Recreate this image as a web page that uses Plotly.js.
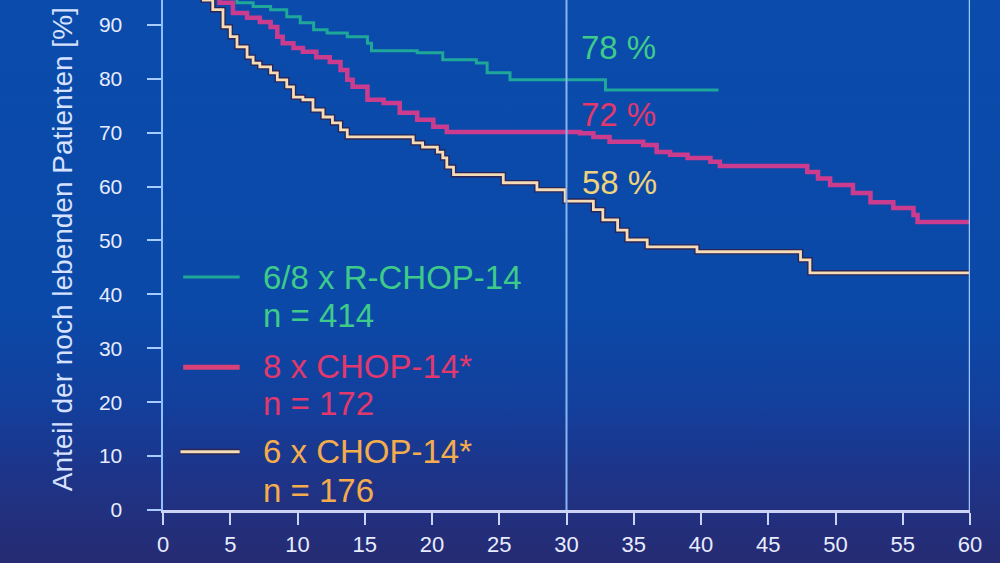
<!DOCTYPE html>
<html>
<head>
<meta charset="utf-8">
<script src="https://cdn.plot.ly/plotly-3.0.1.min.js"></script>
<style>
  html, body { margin: 0; padding: 0; }
  #chart {
    width: 1000px; height: 563px;
    background: linear-gradient(to bottom, #0a4bab 0%, #0b49a8 55%, #133f9c 72%, #1f3386 86%, #262b72 100%);
  }
</style>
</head>
<body>
<div id="chart"></div>
<script>
// ---- data (months, % alive) ----
const greenT = [0, 1.5, 3, 4.5, 5.5, 6.7, 8, 9.2, 10.2, 11.2, 12.2, 13.7, 15.2, 15.5, 18.9, 20.8, 23.3, 24.1, 25.8, 32.9, 41.3];
const greenV = [100, 98, 96, 95, 94.1, 93.4, 92.8, 91.5, 90.4, 89.1, 88.5, 87.8, 86.6, 85.2, 84.8, 83.5, 82.9, 81.1, 79.8, 77.9, 77.9];

const pinkT = [0, 2, 3.5, 4.2, 5.2, 6.25, 7.2, 8, 8.5, 8.9, 9.7, 10.4, 11.4, 12.4, 13.2, 13.7, 14.1, 15.2, 16.4, 17.6, 18.9, 20.1, 21.1, 31, 32, 33.2, 35.7, 36.7, 37.7, 39, 40.7, 41.4, 47.9, 48.7, 49.6, 51.3, 52.6, 54.3, 55.8, 56.1, 60];
const pinkV = [100, 98, 96, 94.1, 92.2, 91.3, 90.5, 89.6, 87.8, 86.6, 85.7, 85, 84, 83.1, 81.6, 79.8, 78.5, 76.1, 75.5, 73.7, 72.4, 71.1, 70.1, 69.9, 69.2, 68.3, 67.7, 66.4, 65.9, 65.3, 64.6, 63.8, 62.7, 61.5, 60.3, 58.8, 57.1, 56, 54.7, 53.4, 53.4];

const orangeT = [0, 1.5, 2.5, 3, 3.7, 4.46, 5, 5.5, 6.25, 6.7, 7.2, 8, 8.5, 9.2, 9.7, 10.4, 11.15, 11.9, 12.6, 13.2, 13.7, 18.6, 19.3, 20.4, 20.8, 21.1, 21.6, 25.3, 27.8, 29.9, 32, 32.7, 33.8, 34.5, 36, 39.7, 47.4, 48.1, 60];
const orangeV = [100, 98, 96, 94.6, 92.8, 89.6, 87.8, 85.9, 84, 82.9, 82.2, 81.1, 79.8, 78.5, 76.6, 76.1, 74.2, 72.9, 71.8, 70.5, 69.2, 68.1, 67.3, 66.4, 65.3, 63.6, 62.2, 60.7, 59.4, 57.3, 55.7, 53.8, 51.9, 50.1, 48.8, 47.9, 46.4, 44, 44];

const seriesNames = ['6/8 x R-CHOP-14', '8 x CHOP-14*', '6 x CHOP-14*'];
const seriesN = ['n = 414', 'n = 172', 'n = 176'];
const endLabels = ['78 %', '72 %', '58 %'];
const xTicks = [0, 5, 10, 15, 20, 25, 30, 35, 40, 45, 50, 55, 60];
const yTicks = [0, 10, 20, 30, 40, 50, 60, 70, 80, 90];
const yTitle = 'Anteil der noch lebenden Patienten [%]';

// ---- styles ----
const GREEN_LINE = '#1fa89a', GREEN_TXT = '#3ecb8a';
const PINK_LINE = '#cc3c8e', PINK_TXT = '#e2386c';
const OR_LINE = '#f4dcb6', OR_SHADOW = '#2b2456', OR_TXT = '#f4ac4c', OR_PCT = '#efd27a';
const FONT = 'Liberation Sans, Arial, sans-serif';

const traces = [
  {x: greenT, y: greenV, mode: 'lines', line: {shape: 'hv', color: GREEN_LINE, width: 3}},
  {x: pinkT, y: pinkV, mode: 'lines', line: {shape: 'hv', color: PINK_LINE, width: 4.5}},
  {x: orangeT, y: orangeV, mode: 'lines', line: {shape: 'hv', color: OR_SHADOW, width: 5.5}},
  {x: orangeT, y: orangeV, mode: 'lines', line: {shape: 'hv', color: OR_LINE, width: 2.8}}
];

const ann = [];
function txt(x, y, text, color, size) {
  ann.push({x: x, y: y, xref: 'x', yref: 'y', text: text, showarrow: false,
    xanchor: 'left', yanchor: 'middle', font: {family: FONT, size: size, color: color}});
}
txt(30.9, 85.7, endLabels[0], GREEN_TXT, 33);
txt(30.9, 73.3, endLabels[1], PINK_TXT, 33);
txt(31.0, 60.7, endLabels[2], OR_PCT, 33);

txt(7.3, 43.2, seriesNames[0], GREEN_TXT, 33);
txt(7.3, 36.0, seriesN[0], GREEN_TXT, 33);
txt(7.3, 26.7, seriesNames[1], PINK_TXT, 33);
txt(7.3, 19.7, seriesN[1], PINK_TXT, 33);
txt(7.3, 10.8, seriesNames[2], OR_TXT, 33);
txt(7.3, 3.7, seriesN[2], OR_TXT, 33);

ann.push({xref: 'paper', yref: 'paper', x: -0.125, y: 0.033, xanchor: 'center', yanchor: 'bottom',
  textangle: -90, showarrow: false, text: yTitle,
  font: {family: FONT, size: 28, color: '#d6e2ff'}});

const shapes = [
  {type: 'line', xref: 'x', yref: 'paper', x0: 30, x1: 30, y0: 0, y1: 1, line: {color: '#86b6f2', width: 2}},
  {type: 'line', xref: 'x', yref: 'paper', x0: 60, x1: 60, y0: 0, y1: 1, line: {color: '#9cc6ff', width: 2.5}},
  // legend swatches
  {type: 'line', xref: 'x', yref: 'y', x0: 1.5, x1: 5.7, y0: 43.2, y1: 43.2, line: {color: GREEN_LINE, width: 3}},
  {type: 'line', xref: 'x', yref: 'y', x0: 1.5, x1: 5.7, y0: 26.5, y1: 26.5, line: {color: '#d84078', width: 5}},
  {type: 'line', xref: 'x', yref: 'y', x0: 1.3, x1: 5.7, y0: 10.8, y1: 10.8, line: {color: OR_SHADOW, width: 6}},
  {type: 'line', xref: 'x', yref: 'y', x0: 1.3, x1: 5.7, y0: 10.8, y1: 10.8, line: {color: OR_LINE, width: 3}}
];

const layout = {
  width: 1000, height: 563,
  margin: {l: 163, r: 30, t: 0, b: 53},
  paper_bgcolor: 'rgba(0,0,0,0)',
  plot_bgcolor: 'rgba(0,0,0,0)',
  showlegend: false,
  xaxis: {
    range: [0, 60], tickvals: xTicks, ticktext: xTicks.map(String),
    showgrid: false, zeroline: false,
    showline: true, linecolor: '#cdd3f6', linewidth: 3,
    ticks: 'outside', ticklen: 12, tickwidth: 2, tickcolor: '#cdd3f6',
    ticklabelstandoff: 1,
    tickfont: {family: FONT, size: 22, color: '#e8ecff'}
  },
  yaxis: {
    range: [0, 94.6], tickvals: yTicks, ticktext: yTicks.map(String),
    showgrid: false, zeroline: false,
    showline: true, linecolor: '#8ec0ff', linewidth: 2.5,
    ticks: 'outside', ticklen: 14, tickwidth: 2, tickcolor: '#a8ccff',
    ticklabelstandoff: 20,
    tickfont: {family: FONT, size: 21, color: '#e8ecff'}
  },
  annotations: ann,
  shapes: shapes
};

Plotly.newPlot('chart', traces, layout, {staticPlot: true, displayModeBar: false});
</script>
</body>
</html>
